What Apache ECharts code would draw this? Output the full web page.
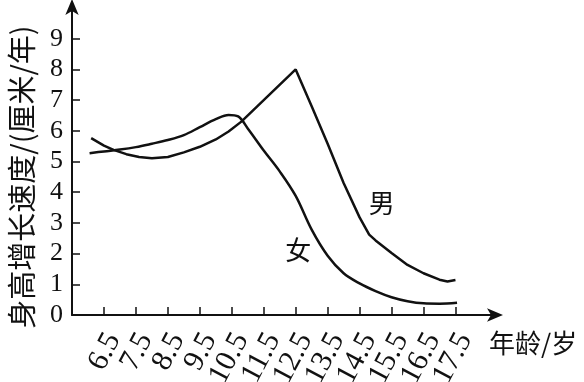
<!DOCTYPE html>
<html>
<head>
<meta charset="utf-8">
<script src="https://cdn.jsdelivr.net/npm/echarts@6/dist/echarts.min.js"></script>
<style>
html,body{margin:0;padding:0;background:#fff;}
#c{width:584px;height:382px;}
</style>
</head>
<body>
<div id="c"></div>
<script>
// tick labels
const ageTicks = [6.5, 7.5, 8.5, 9.5, 10.5, 11.5, 12.5, 13.5, 14.5, 15.5, 16.5, 17.5];
const rateTicks = [0, 1, 2, 3, 4, 5, 6, 7, 8, 9];
// 男 (boys)
const maleAge  = [6.1, 6.5, 6.8, 7.2, 7.6, 8.0, 8.5, 9.0, 9.5, 10.0, 10.4, 10.8, 12.5, 13.0, 13.5, 14.0, 14.5, 14.8, 15.0, 15.5, 16.0, 16.5, 17.0, 17.25, 17.5];
const maleRate = [5.76, 5.52, 5.38, 5.24, 5.15, 5.11, 5.15, 5.30, 5.48, 5.72, 5.98, 6.30, 8.0, 6.8, 5.58, 4.3, 3.18, 2.62, 2.43, 2.02, 1.63, 1.36, 1.15, 1.09, 1.14];
// 女 (girls)
const femaleAge  = [6.05, 6.5, 7.0, 7.5, 8.0, 8.5, 9.0, 9.5, 10.0, 10.4, 10.7, 11.0, 11.5, 12.0, 12.5, 13.0, 13.5, 14.0, 14.5, 15.0, 15.5, 16.0, 16.5, 17.0, 17.55];
const femaleRate = [5.27, 5.33, 5.39, 5.47, 5.58, 5.70, 5.86, 6.12, 6.38, 6.52, 6.47, 6.08, 5.36, 4.68, 3.88, 2.78, 1.93, 1.36, 1.03, 0.78, 0.58, 0.45, 0.38, 0.37, 0.40];
const seriesNames = ['男', '女'];

const zip = (a, b) => a.map((v, i) => [v, b[i]]);
const FONT = "'Liberation Serif', 'Noto Sans CJK SC', serif";
const CJK = "'Noto Sans CJK SC', sans-serif";
const INK = '#111';

// layout of the main grid
const W = 584, H = 382;
const G = {left: 72, right: 87, top: 5, bottom: 67};
const X_MIN = 5.5, X_MAX = 18.8;
const unit = (W - G.left - G.right) / (X_MAX - X_MIN);
// label-only grid spanning exactly from the first to the last age tick
const labLeft = G.left + (ageTicks[0] - X_MIN) * unit;
const labRight = W - (G.left + (ageTicks[ageTicks.length - 1] - X_MIN) * unit);

const chart = echarts.init(document.getElementById('c'), null, {renderer: 'canvas'});
chart.setOption({
  animation: false,
  backgroundColor: '#fff',
  grid: [
    {left: G.left, right: G.right, top: G.top, bottom: G.bottom, containLabel: false, outerBoundsMode: 'none'},
    {left: labLeft, right: labRight, top: G.top, bottom: G.bottom, containLabel: false, outerBoundsMode: 'none'}
  ],
  xAxis: [{
    type: 'value', min: X_MIN, max: X_MAX, gridIndex: 0,
    splitLine: {show: false},
    axisLine: {show: true, lineStyle: {color: INK, width: 2}, symbol: ['none', 'arrow'], symbolSize: [10, 16], symbolOffset: [0, 6]},
    axisTick: {show: true, inside: true, length: 8, lineStyle: {color: INK, width: 1.5}, customValues: ageTicks},
    axisLabel: {show: false},
    name: '年龄/岁', nameLocation: 'end', nameGap: -8,
    nameTextStyle: {fontFamily: CJK, fontSize: 26, color: INK, align: 'left', verticalAlign: 'top', padding: [15, 0, 0, 0]}
  }, {
    type: 'category', gridIndex: 1, boundaryGap: false,
    data: ageTicks.map(v => v.toFixed(1)),
    axisLine: {show: false}, axisTick: {show: false}, splitLine: {show: false},
    axisLabel: {show: true, interval: 0, rotate: 62, margin: 15, color: INK, fontFamily: FONT, fontSize: 30,
      lineHeight: 22, align: 'right', verticalAlign: 'top', hideOverlap: false}
  }],
  yAxis: [{
    type: 'value', min: 0, max: 10.1, gridIndex: 0,
    splitLine: {show: false},
    axisLine: {show: true, lineStyle: {color: INK, width: 2}, symbol: ['none', 'arrow'], symbolSize: [10, 16], symbolOffset: [0, 6]},
    axisTick: {show: true, inside: true, length: 8, lineStyle: {color: INK, width: 1.5}, customValues: rateTicks.slice(1)},
    axisLabel: {show: true, customValues: rateTicks, margin: 9, color: INK, fontFamily: FONT, fontSize: 26,
      showMinLabel: true, showMaxLabel: true},
    name: '身高增长速度/(厘米/年)', nameLocation: 'middle', nameGap: 36, nameRotate: 90,
    nameTextStyle: {fontFamily: CJK, fontSize: 29, color: INK, padding: [0, 34, 0, 0]}
  }, {
    type: 'value', gridIndex: 1, show: false, min: 0, max: 10.1
  }],
  series: [
    {
      name: seriesNames[0], type: 'line', data: zip(maleAge, maleRate), smooth: false,
      xAxisIndex: 0, yAxisIndex: 0,
      showSymbol: false, lineStyle: {color: INK, width: 2.5},
      markPoint: {symbol: 'rect', symbolSize: 1, itemStyle: {color: 'rgba(0,0,0,0)'},
        label: {show: true, position: 'inside', formatter: seriesNames[0], color: INK, fontFamily: CJK, fontSize: 26},
        data: [{coord: [15.19, 3.64]}]}
    },
    {
      name: seriesNames[1], type: 'line', data: zip(femaleAge, femaleRate), smooth: 0.35,
      xAxisIndex: 0, yAxisIndex: 0,
      showSymbol: false, lineStyle: {color: INK, width: 2.5},
      markPoint: {symbol: 'rect', symbolSize: 1, itemStyle: {color: 'rgba(0,0,0,0)'},
        label: {show: true, position: 'inside', formatter: seriesNames[1], color: INK, fontFamily: CJK, fontSize: 26},
        data: [{coord: [12.58, 2.12]}]}
    }
  ]
});
</script>
</body>
</html>
